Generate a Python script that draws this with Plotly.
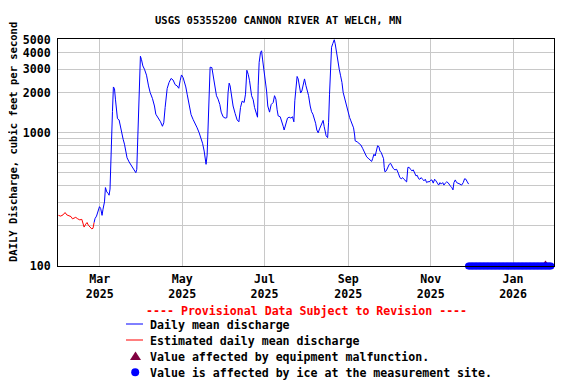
import plotly.graph_objects as go
import pandas as pd

BASE = pd.Timestamp("2025-03-01")

# Estimated daily mean discharge (days since 2025-03-01, cfs)
est_days = [-30.6, -28.9, -27.2, -25.7, -24.4, -22.7, -21.3, -20.2, -19.0, -17.8, -16.3,
            -14.8, -13.3, -12.4, -11.6, -10.4, -9.4, -8.4, -7.2, -5.9, -5.0, -4.2]
est_q = [240, 237, 242, 252, 242, 237, 235, 226, 228, 232, 226,
         222, 224, 209, 196, 206, 212, 202, 195, 190, 192, 212]

# Daily mean discharge (days since 2025-03-01, cfs)
daily_days = [-4.2, -3.5, -2.4, -1.5, -0.2, 0.7, 1.7, 2.4, 3.5, 4.2, 5.2, 6.1, 6.9, 7.6, 7.9, 8.7,
              9.4, 10.1, 10.9, 11.6, 12.4, 13.1, 14.3, 15.3, 16.1, 17.3, 18.3, 19.3, 20.2, 21.7,
              23.2, 24.2, 25.7, 26.7, 27.4, 27.9, 28.7, 29.4, 30.1, 30.9, 31.9, 33.1, 34.6, 36.1,
              37.3, 39.0, 40.5, 41.5, 43.2, 45.0, 46.4, 47.4, 48.4, 49.9, 51.3, 52.8, 54.3, 55.8,
              57.3, 58.5, 59.5, 60.5, 61.7, 62.7, 63.7, 64.7, 65.7, 66.7, 67.6, 69.1, 70.6, 72.1,
              73.6, 75.0, 76.1, 77.3, 78.3, 78.7, 79.5, 80.2, 81.0, 81.7, 83.0, 83.9, 85.0, 86.4,
              87.6, 88.9, 89.9, 91.3, 92.8, 94.1, 95.0, 95.8, 96.5, 97.6, 98.7, 100.2, 101.7,
              103.0, 104.2, 105.4, 106.9, 107.9, 108.9, 109.9, 110.9, 112.4, 113.6, 114.6, 115.8,
              116.8, 117.3, 118.0, 119.0, 119.8, 120.5, 121.5, 122.4, 123.5, 124.4, 125.7, 126.9,
              128.4, 129.4, 130.4, 131.3, 132.1, 133.6, 134.8, 135.8, 136.5, 137.6, 139.0, 140.2,
              141.5, 142.7, 143.7, 144.4, 145.4, 146.1, 146.9, 147.6, 148.7, 149.6, 150.6, 151.6,
              152.6, 153.6, 154.6, 155.8, 156.8, 157.8, 158.7, 159.8, 160.7, 161.7, 162.7, 163.7,
              164.7, 165.4, 166.1, 166.9, 167.6, 168.7, 169.4, 170.1, 170.9, 171.6, 172.6, 173.6,
              174.3, 175.3, 176.3, 177.3, 178.3, 179.3, 180.2, 181.3, 182.0, 183.0, 183.9, 185.0,
              185.9, 186.9, 187.9, 188.7, 189.1, 190.6, 192.1, 193.3, 194.6, 195.6, 196.5, 197.6,
              198.7, 200.0, 201.3, 202.0, 203.0, 203.9, 205.0, 205.7, 206.7, 207.4, 208.4, 209.4,
              210.1, 210.6, 211.1, 212.1, 213.1, 214.3, 215.3, 216.3, 217.3, 218.5, 219.8, 221.0,
              222.2, 223.2, 224.2, 225.2, 226.1, 227.2, 228.1, 229.1, 230.1, 231.1, 232.1, 233.1,
              234.1, 235.0, 236.1, 237.0, 238.0, 239.0, 240.0, 241.0, 242.0, 243.0, 243.9, 245.0,
              245.9, 246.9, 247.9, 248.9, 249.9, 250.9, 251.9, 252.8, 253.9, 254.8, 255.8, 256.8,
              257.8, 258.7, 259.8, 260.7, 261.5, 262.2, 263.2, 264.2, 265.4, 266.7, 267.9, 269.1,
              270.1, 271.1, 272.1, 273.1]
daily_q = [212, 227, 237, 259, 279, 270, 240, 267, 303, 388, 360, 352, 340, 378, 502, 786,
           1445, 2210, 2150, 1790, 1460, 1280, 1250, 1120, 975, 895, 822, 710, 650, 605,
           572, 542, 521, 502, 532, 730, 1300, 2560, 3760, 3540, 3180, 3000, 2710, 2250,
           2010, 1810, 1590, 1380, 1300, 1210, 1120, 1190, 1550, 2150, 2390, 2560, 2490, 2300,
           2250, 2160, 2460, 2720, 2600, 2420, 2210, 1950, 1740, 1550, 1370, 1260, 1180, 1090,
           1000, 905, 835, 730, 632, 580, 680, 1120, 2270, 3110, 3090, 2750, 2250, 1900,
           1790, 1630, 1430, 1320, 1290, 1300, 2010, 2360, 2250, 1830, 1590, 1400, 1250,
           1210, 1550, 1730, 1690, 1950, 2950, 2750, 2460, 1900, 1770, 1550, 1380,
           1310, 2250, 3380, 4010, 4130, 3580, 3000, 2680, 2060, 1590, 1430, 1630,
           1690, 1900, 1790, 1490, 1340, 1320, 1230, 1120, 1050, 1180, 1290, 1310,
           1290, 1320, 1210, 1740, 2250, 2650, 2540, 2250, 1990, 2060, 2270, 2540,
           2270, 2060, 1900, 1590, 1440, 1380, 1300, 1180, 1050, 1000, 1070, 1140,
           1190, 1240, 1120, 1000, 950, 920, 1190, 1950, 3180, 4390, 4700, 5000,
           4660, 4010, 3270, 3000, 2680, 2390, 2010, 1810, 1690, 1520, 1400, 1300,
           1230, 1170, 1090, 963, 870, 855, 835, 810, 765, 720, 690, 660,
           645, 625, 610, 640, 690, 670, 730, 800, 786, 730, 710, 670,
           640, 550, 510, 518, 550, 580, 590, 565, 540, 527, 532, 498,
           461, 452, 461, 448, 436, 428, 550, 550, 532, 518, 527, 502,
           475, 480, 452, 448, 461, 448, 436, 448, 423, 430, 428, 441,
           443, 419, 448, 436, 419, 405, 423, 412, 423, 405, 419, 428,
           423, 408, 396, 387, 373, 423, 443, 423, 419, 412, 405, 423,
           452, 448, 428, 412]

# Ice-affected days (plotted at bottom of graph) and equipment malfunction flag
ice_first, ice_last = "2025-11-29", "2026-01-29"
malfunction_dates = ["2026-01-25"]
FLAG_Q = 100

# Axis ticks
x_tick_dates = ["2025-03-01", "2025-05-01", "2025-07-01", "2025-09-01", "2025-11-01", "2026-01-01"]
x_tick_text = ["Mar<br>2025", "May<br>2025", "Jul<br>2025", "Sep<br>2025", "Nov<br>2025", "Jan<br>2026"]
y_grid_vals = [100, 200, 300, 400, 500, 600, 700, 800, 900, 1000, 2000, 3000, 4000, 5000]
y_labelled = [100, 1000, 2000, 3000, 4000, 5000]

est_dates = [BASE + pd.Timedelta(days=d) for d in est_days]
daily_dates = [BASE + pd.Timedelta(days=d) for d in daily_days]
ice_dates = pd.date_range(ice_first, ice_last, freq="D")

FONT = "DejaVu Sans Mono"
OFF = 8  # page body margin offset in the browser
W, H = 576 - OFF, 384 - OFF
# plot area in window pixels
L, R, T, B = 58, 554, 39, 266


def fx(px):
    return (px - L) / (R - L)


def fy(py):
    return (B - py) / (B - T)


fig = go.Figure()
fig.add_trace(go.Scatter(x=est_dates, y=est_q, mode="lines",
                         line=dict(color="#ff0000", width=1), showlegend=False))
fig.add_trace(go.Scatter(x=daily_dates, y=daily_q, mode="lines",
                         line=dict(color="#0000ff", width=1), showlegend=False))
fig.add_trace(go.Scatter(x=pd.to_datetime(malfunction_dates), y=[FLAG_Q] * len(malfunction_dates),
                         mode="markers", cliponaxis=False,
                         marker=dict(symbol="triangle-up", size=11, color="#800040"),
                         showlegend=False))
fig.add_trace(go.Scatter(x=ice_dates, y=[FLAG_Q] * len(ice_dates), mode="markers",
                         cliponaxis=False,
                         marker=dict(symbol="circle", size=7, color="#0000ff", line=dict(width=0)),
                         showlegend=False))

bold = dict(family=FONT, color="black", size=11.6, weight="bold")

fig.update_layout(
    width=W, height=H,
    margin=dict(l=L - OFF, r=576 - R, t=T - OFF, b=384 - B, pad=0),
    paper_bgcolor="white", plot_bgcolor="white",
    showlegend=False,
    font=bold,
    xaxis=dict(
        type="date",
        range=["2025-01-29 02:00", "2026-01-31 07:00"],
        tickvals=x_tick_dates, ticktext=x_tick_text,
        showgrid=True, gridcolor="#c8c8c8", gridwidth=1,
        showline=True, linecolor="black", linewidth=1, mirror=True,
        ticks="", tickfont=bold, ticklabelstandoff=2,
        zeroline=False,
    ),
    yaxis=dict(
        type="log",
        range=[2, 3.7045],
        tickvals=y_grid_vals,
        ticktext=[str(v) if v in y_labelled else "" for v in y_grid_vals],
        showgrid=True, gridcolor="#c8c8c8", gridwidth=1,
        showline=True, linecolor="black", linewidth=1, mirror=True,
        ticks="", tickfont=bold, ticklabelstandoff=4,
        zeroline=False,
    ),
)

ann = []
ann.append(dict(text="USGS 05355200 CANNON RIVER AT WELCH, MN", x=fx(278), y=fy(20),
                xref="paper", yref="paper", showarrow=False, xanchor="center", yanchor="middle",
                font=dict(family=FONT, size=10.5, color="black", weight="bold")))
ann.append(dict(text="DAILY Discharge, cubic feet per second", x=fx(12.5), y=fy(142.5),
                xref="paper", yref="paper", showarrow=False, textangle=-90,
                xanchor="center", yanchor="middle",
                font=dict(family=FONT, size=10.5, color="black", weight="bold")))
ann.append(dict(text="---- Provisional Data Subject to Revision ----", x=fx(306), y=fy(311),
                xref="paper", yref="paper", showarrow=False, xanchor="center", yanchor="middle",
                font=dict(family=FONT, size=11.6, color="#ff0000", weight="bold")))
legend_rows = [("Daily mean discharge", 325), ("Estimated daily mean discharge", 341),
               ("Value affected by equipment malfunction.", 357),
               ("Value is affected by ice at the measurement site.", 373)]
for txt, py in legend_rows:
    ann.append(dict(text=txt, x=fx(147.5), y=fy(py), xref="paper", yref="paper", showarrow=False,
                    xanchor="left", yanchor="middle", font=bold))

shapes = [
    dict(type="line", xref="paper", yref="paper", x0=fx(126), x1=fx(143), y0=fy(324), y1=fy(324),
         line=dict(color="#0000ff", width=1)),
    dict(type="line", xref="paper", yref="paper", x0=fx(126), x1=fx(143), y0=fy(340), y1=fy(340),
         line=dict(color="#ff0000", width=1)),
    dict(type="path", xref="paper", yref="paper",
         path=f"M {fx(130)},{fy(360)} L {fx(141)},{fy(360)} L {fx(135.5)},{fy(351.5)} Z",
         fillcolor="#800040", line=dict(width=0)),
    dict(type="circle", xref="paper", yref="paper", x0=fx(131.2), x1=fx(139.2),
         y0=fy(376.3), y1=fy(368.3), fillcolor="#0000ff", line=dict(width=0)),
]
fig.update_layout(annotations=ann, shapes=shapes)

fig.write_html("out.html")
